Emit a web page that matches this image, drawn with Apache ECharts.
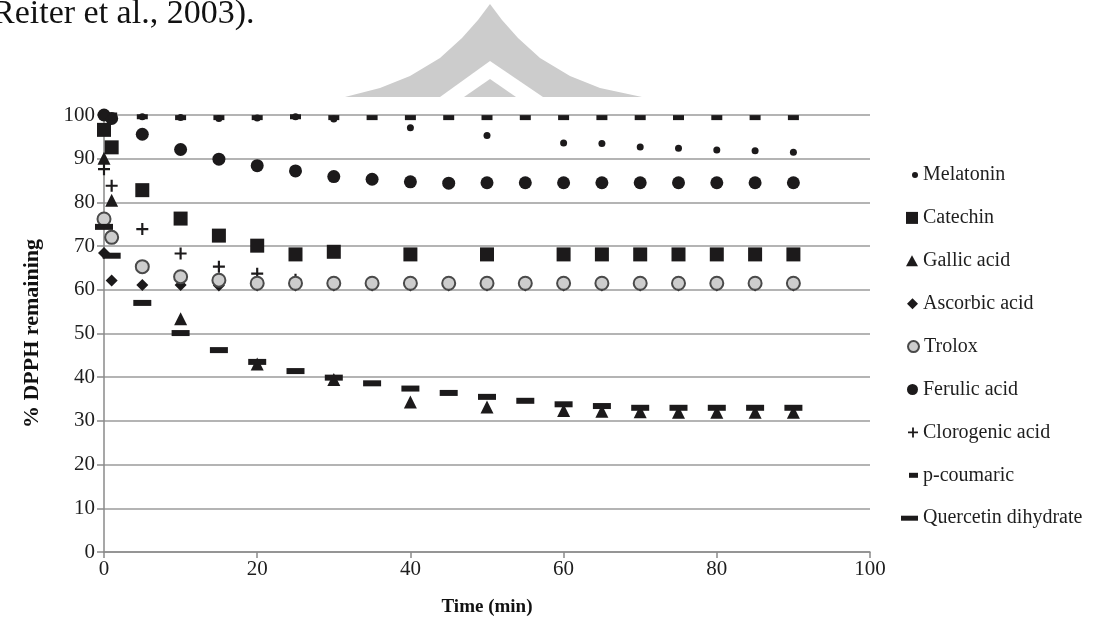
<!DOCTYPE html>
<html>
<head>
<meta charset="utf-8">
<script src="https://cdn.jsdelivr.net/npm/echarts@6/dist/echarts.min.js"></script>
<style>
html,body{margin:0;padding:0;background:#fff;}
#chart{width:1120px;height:626px;}
</style>
</head>
<body>
<div id="chart"></div>
<script>
// ---- data ----
const timesAll = [0,1,5,10,15,20,25,30,35,40,45,50,55,60,65,70,75,80,85,90];
const timesMain = [0,1,5,10,15,20,25,30,40,50,60,65,70,75,80,85,90];
const timesGallic = [0,1,10,20,30,40,50,60,65,70,75,80,85,90];

const melatoninVals = [100,99.6,99.6,99.4,99.2,99.3,99.6,99.1,97.1,95.3,93.6,93.5,92.7,92.4,92.0,91.8,91.5];
const catechinVals  = [96.6,92.6,82.8,76.3,72.4,70.1,68.1,68.7,68.1,68.1,68.1,68.1,68.1,68.1,68.1,68.1,68.1];
const gallicVals    = [90.1,80.5,53.4,43.0,39.5,34.3,33.2,32.4,32.2,32.1,32.0,32.0,32.0,32.0];
const ascorbicVals  = [68.4,62.1,61.1,61.1,61.0,61.0,61.0,61.0,61.0,61.0,61.0,61.0,61.0,61.0,61.0,61.0,61.0,61.0,61.0,61.0];
const troloxVals    = [76.2,72.0,65.3,63.0,62.2,61.5,61.5,61.5,61.5,61.5,61.5,61.5,61.5,61.5,61.5,61.5,61.5,61.5,61.5,61.5];
const ferulicVals   = [100,99.2,95.6,92.1,89.9,88.4,87.2,85.9,85.3,84.7,84.4,84.5,84.5,84.5,84.5,84.5,84.5,84.5,84.5,84.5];
const clorogenicVals= [87.6,83.8,73.9,68.3,65.3,63.7,62.3,61.6,61.6,61.6,61.6,61.6,61.6,61.6,61.6,61.6,61.6,61.6,61.6,61.6];
const coumaricVals  = [100,100,99.6,99.4,99.4,99.4,99.6,99.4,99.4,99.4,99.4,99.4,99.4,99.4,99.4,99.4,99.4,99.4,99.4,99.4];
const quercetinVals = [74.4,67.8,57.0,50.1,46.2,43.5,41.4,39.9,38.6,37.4,36.4,35.5,34.6,33.8,33.4,33.0,33.0,33.0,33.0,33.0];

const seriesNames = ['Melatonin','Catechin','Gallic acid','Ascorbic acid','Trolox','Ferulic acid','Clorogenic acid','p-coumaric','Quercetin dihydrate'];
const xTicks = [0,20,40,60,80,100];
const yTicks = [0,10,20,30,40,50,60,70,80,90,100];

// ---- build ----
function pairs(ts, vs){ return ts.map((t,i)=>[t, vs[i]]); }
const INK = '#1c1a1b';
const SERIF = '"Liberation Serif","DejaVu Serif",serif';
const plusPath = 'path://M4.1,0 H5.9 V4.1 H10 V5.9 H5.9 V10 H4.1 V5.9 H0 V4.1 H4.1 Z';

const defs = [
  {name:seriesNames[0], data:pairs(timesMain, melatoninVals), symbol:'circle', size:7, lw:6, lh:6, z:9},
  {name:seriesNames[1], data:pairs(timesMain, catechinVals), symbol:'rect', size:14, lw:12, lh:12, z:4},
  {name:seriesNames[2], data:pairs(timesGallic, gallicVals), symbol:'triangle', size:13, lw:12, lh:11, z:3},
  {name:seriesNames[3], data:pairs(timesAll, ascorbicVals), symbol:'diamond', size:12, lw:11, lh:11, z:2},
  {name:seriesNames[4], data:pairs(timesAll, troloxVals), symbol:'circle', size:13, lw:11, lh:11, z:6,
     style:{color:'#cdcdcd', borderColor:'#4a4a4a', borderWidth:2, opacity:1}},
  {name:seriesNames[5], data:pairs(timesAll, ferulicVals), symbol:'circle', size:13, lw:11, lh:11, z:5},
  {name:seriesNames[6], data:pairs(timesAll, clorogenicVals), symbol:plusPath, size:12, lw:10, lh:10, z:5},
  {name:seriesNames[7], data:pairs(timesAll, coumaricVals), symbol:'rect', size:[11,5], lw:9, lh:5, z:8},
  {name:seriesNames[8], data:pairs(timesAll, quercetinVals), symbol:'rect', size:[18,6], lw:17, lh:5, z:7}
];

const series = defs.map(d => ({
  type:'scatter', name:d.name, data:d.data, symbol:d.symbol, symbolSize:d.size,
  z: d.z, silent:true, animation:false,
  itemStyle: d.style || {color:INK, opacity:1}
}));

const legendTextX = 918;
const legends = defs.map((d,i) => ({
  data:[d.name], orient:'vertical',
  left: legendTextX - 5 - d.lw,
  top: 170 + i*42.9 - 11,
  itemWidth:d.lw, itemHeight:d.lh, itemGap:0,
  selectedMode:false,
  textStyle:{fontFamily:SERIF, fontSize:20, color:'#1e1e1e', lineHeight:22}
}));

const chart = echarts.init(document.getElementById('chart'), null, {renderer:'canvas'});
chart.setOption({
  backgroundColor:'#fff',
  animation:false,
  grid:{left:104, right:250, top:115, bottom:74, containLabel:false},
  xAxis:{
    type:'value', min:xTicks[0], max:xTicks[xTicks.length-1], interval:20,
    name:'Time (min)', nameLocation:'middle', nameGap:46,
    nameTextStyle:{fontFamily:SERIF, fontSize:19, fontWeight:'bold', color:'#111'},
    axisLine:{show:true, onZero:false, lineStyle:{color:'#8a8a8a', width:1.5}},
    axisTick:{show:true, length:6, lineStyle:{color:'#8a8a8a', width:1.5}},
    axisLabel:{fontFamily:SERIF, fontSize:21, color:'#1e1e1e', margin:7},
    splitLine:{show:false}
  },
  yAxis:{
    type:'value', min:yTicks[0], max:yTicks[yTicks.length-1], interval:10,
    name:'% DPPH remaining', nameLocation:'middle', nameGap:61, nameRotate:90,
    nameTextStyle:{fontFamily:SERIF, fontSize:22, fontWeight:'bold', color:'#111'},
    axisLine:{show:true, lineStyle:{color:'#8a8a8a', width:1.5}},
    axisTick:{show:true, length:7, lineStyle:{color:'#8a8a8a', width:1.5}},
    axisLabel:{fontFamily:SERIF, fontSize:21, color:'#1e1e1e', margin:9},
    splitLine:{show:true, lineStyle:{color:'#b4b4b4', width:2}}
  },
  legend: legends,
  series: series,
  graphic:[
    {type:'polygon', silent:true, z:-1,
     shape:{points:[[345,97],[380,88],[410,76],[440,58],[462,38],[478,20],[490,4],[502,20],[518,38],[540,58],[570,76],[600,88],[642,97]]},
     style:{fill:'#cccccc'}},
    {type:'polygon', silent:true, z:-1,
     shape:{points:[[440,97],[490,61],[543,97]]},
     style:{fill:'#ffffff'}},
    {type:'polygon', silent:true, z:-1,
     shape:{points:[[464,97],[490,79],[516,97]]},
     style:{fill:'#cccccc'}},
    {type:'text', left:-8, top:-3, silent:true,
     style:{text:'Reiter et al., 2003).', font:'34px "Liberation Serif", serif', fill:'#111'}}
  ]
});
</script>
</body>
</html>
